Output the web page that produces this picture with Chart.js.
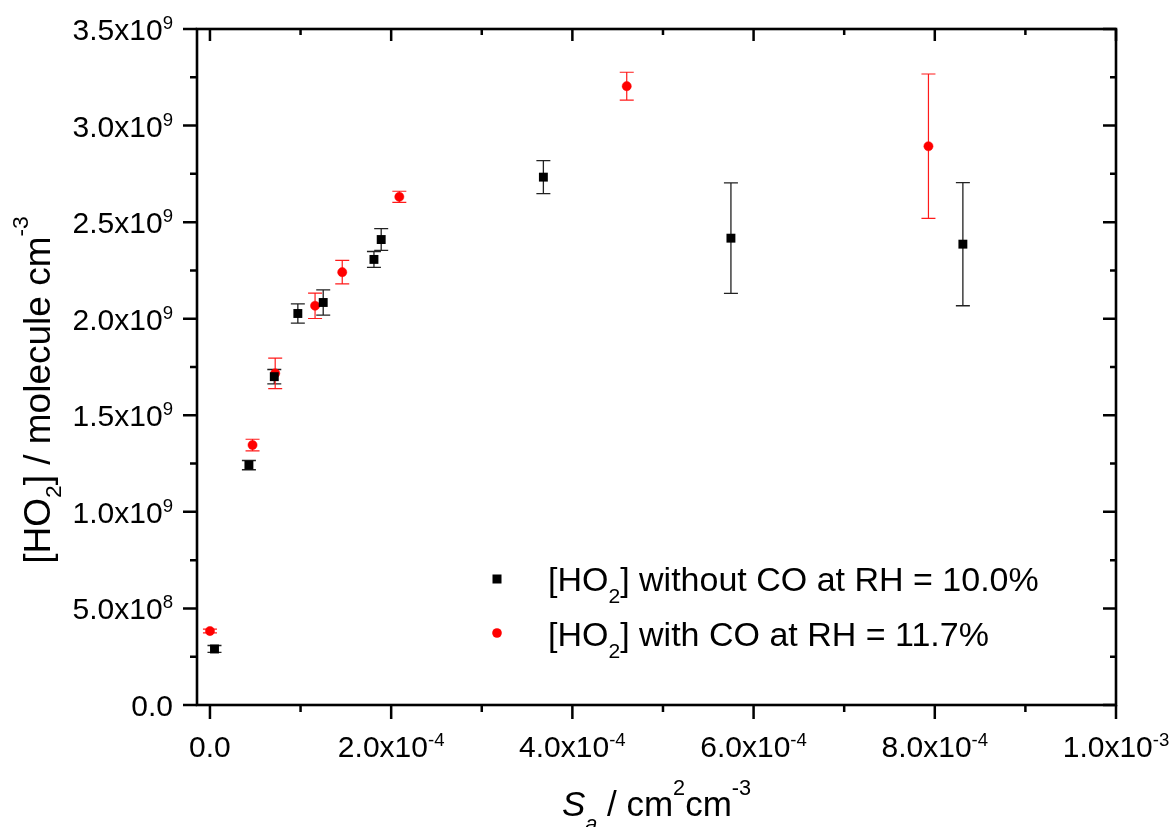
<!DOCTYPE html>
<html>
<head>
<meta charset="utf-8">
<script src="https://cdn.jsdelivr.net/npm/chart.js@4.4.1/dist/chart.umd.min.js"></script>
<style>
    html, body { margin: 0; padding: 0; background: #fff; }
    #divChart { width: 1169px; height: 827px; }
</style>
</head>
<body>
<div id="divChart"><canvas id="cnvHO2Chart"></canvas></div>
<script>
/**
 * DATA
 */
// [HO2] without CO at RH = 10.0%
let saNoCO = [0.5e-5, 4.3e-5, 7.1e-5, 9.7e-5, 12.5e-5, 18.1e-5, 18.9e-5, 36.8e-5, 57.5e-5, 83.1e-5];
let ho2NoCO = [0.290e9, 1.242e9, 1.700e9, 2.027e9, 2.084e9, 2.307e9, 2.410e9, 2.733e9, 2.417e9, 2.386e9];
let errNoCO = [0.018e9, 0.024e9, 0.037e9, 0.050e9, 0.065e9, 0.041e9, 0.056e9, 0.085e9, 0.286e9, 0.319e9];

// [HO2] with CO at RH = 11.7%
let saCO = [0.0, 4.7e-5, 7.2e-5, 11.6e-5, 14.6e-5, 20.9e-5, 46.0e-5, 79.3e-5];
let ho2CO = [0.383e9, 1.346e9, 1.717e9, 2.067e9, 2.241e9, 2.631e9, 3.204e9, 2.893e9];
let errCO = [0.010e9, 0.030e9, 0.079e9, 0.066e9, 0.061e9, 0.029e9, 0.072e9, 0.374e9];

// axis ticks
let xMajorTicks = [0, 2e-4, 4e-4, 6e-4, 8e-4, 1e-3];
let xMinorTicks = [1e-4, 3e-4, 5e-4, 7e-4, 9e-4];
let xTickLabels = [['0.0', ''], ['2.0x10', '-4'], ['4.0x10', '-4'], ['6.0x10', '-4'], ['8.0x10', '-4'], ['1.0x10', '-3']];
let yMajorTicks = [0, 0.5e9, 1.0e9, 1.5e9, 2.0e9, 2.5e9, 3.0e9, 3.5e9];
let yMinorTicks = [0.25e9, 0.75e9, 1.25e9, 1.75e9, 2.25e9, 2.75e9, 3.25e9];
let yTickLabels = [['0.0', ''], ['5.0x10', '8'], ['1.0x10', '9'], ['1.5x10', '9'], ['2.0x10', '9'], ['2.5x10', '9'], ['3.0x10', '9'], ['3.5x10', '9']];

let legendLabels = [
    [{ t: '[HO' }, { t: '2', sub: true }, { t: '] without CO at RH = 10.0%' }],
    [{ t: '[HO' }, { t: '2', sub: true }, { t: '] with CO at RH = 11.7%' }]
];

const FONT = "'Liberation Sans', Arial, Helvetica, sans-serif";

/**
 * FUNCTIONS
 */

/**
 * font string for a text part
 */
function PartFont(part, size) {
    let s = (part.sup || part.sub) ? size * 0.62 : size;
    return `${part.italic ? 'italic ' : ''}${s}px ${FONT}`;
}

/**
 * width of a rich text (parts with sub / sup)
 */
function RichWidth(ctx, parts, size) {
    let w = 0;
    parts.forEach(p => {
        ctx.font = PartFont(p, size);
        w += ctx.measureText(p.t).width;
    });
    return w;
}

/**
 * draws rich text, x is the left edge, y the baseline
 */
function DrawRich(ctx, parts, x, y, size, supShift, subShift) {
    ctx.textAlign = 'left';
    ctx.textBaseline = 'alphabetic';
    parts.forEach(p => {
        ctx.font = PartFont(p, size);
        let dy = 0;
        if (p.sup) dy = -supShift;
        if (p.sub) dy = subShift;
        ctx.fillText(p.t, x, y + dy);
        x += ctx.measureText(p.t).width;
    });
}

function TickParts(lbl) {
    let parts = [{ t: lbl[0] }];
    if (lbl[1] !== '') parts.push({ t: lbl[1], sup: true });
    return parts;
}

/**
 * error bars, drawn before the markers
 */
let errorBarPlugin = {
    id: 'errorBars',
    beforeDatasetsDraw(chart) {
        let ctx = chart.ctx;
        let xs = chart.scales.x;
        let ys = chart.scales.y;
        let sets = [
            { sa: saNoCO, v: ho2NoCO, e: errNoCO, color: '#222', lw: 1.3 },
            { sa: saCO, v: ho2CO, e: errCO, color: '#ff1a1a', lw: 1.2 }
        ];
        ctx.save();
        sets.forEach(s => {
            ctx.strokeStyle = s.color;
            ctx.lineWidth = s.lw;
            for (let i = 0; i < s.sa.length; i++) {
                let px = xs.getPixelForValue(s.sa[i]);
                let top = ys.getPixelForValue(s.v[i] + s.e[i]);
                let bot = ys.getPixelForValue(s.v[i] - s.e[i]);
                ctx.beginPath();
                ctx.moveTo(px, top); ctx.lineTo(px, bot);
                ctx.moveTo(px - 7, top); ctx.lineTo(px + 7, top);
                ctx.moveTo(px - 7, bot); ctx.lineTo(px + 7, bot);
                ctx.stroke();
            }
        });
        ctx.restore();
    }
};

/**
 * frame, ticks, tick labels, axis titles and legend
 */
let framePlugin = {
    id: 'frame',
    afterDraw(chart) {
        let ctx = chart.ctx;
        let a = chart.chartArea;
        let xs = chart.scales.x;
        let ys = chart.scales.y;
        ctx.save();
        ctx.fillStyle = '#000';
        ctx.strokeStyle = '#000';

        // ticks
        ctx.lineWidth = 2.5;
        ctx.beginPath();
        xMajorTicks.forEach(v => {
            let px = xs.getPixelForValue(v);
            ctx.moveTo(px, a.bottom); ctx.lineTo(px, a.bottom + 14);
            ctx.moveTo(px, a.top); ctx.lineTo(px, a.top + 12);
        });
        xMinorTicks.forEach(v => {
            let px = xs.getPixelForValue(v);
            ctx.moveTo(px, a.bottom); ctx.lineTo(px, a.bottom + 7);
            ctx.moveTo(px, a.top); ctx.lineTo(px, a.top + 6);
        });
        yMajorTicks.forEach(v => {
            let py = ys.getPixelForValue(v);
            ctx.moveTo(a.left, py); ctx.lineTo(a.left - 14, py);
            ctx.moveTo(a.right, py); ctx.lineTo(a.right - 13, py);
        });
        yMinorTicks.forEach(v => {
            let py = ys.getPixelForValue(v);
            ctx.moveTo(a.left, py); ctx.lineTo(a.left - 7, py);
            ctx.moveTo(a.right, py); ctx.lineTo(a.right - 6, py);
        });
        ctx.stroke();

        // frame
        ctx.lineWidth = 2.6;
        ctx.strokeRect(a.left, a.top, a.right - a.left, a.bottom - a.top);

        // tick labels
        let tickSize = 30;
        xMajorTicks.forEach((v, i) => {
            let parts = TickParts(xTickLabels[i]);
            let w = RichWidth(ctx, parts, tickSize);
            let px = xs.getPixelForValue(v);
            DrawRich(ctx, parts, px - w / 2, a.bottom + 52, tickSize, 11, 0);
        });
        yMajorTicks.forEach((v, i) => {
            let parts = TickParts(yTickLabels[i]);
            let w = RichWidth(ctx, parts, tickSize);
            let py = ys.getPixelForValue(v);
            DrawRich(ctx, parts, a.left - 24 - w, py + 11, tickSize, 11, 0);
        });

        // x title
        let titleSize = 35;
        let xTitle = [{ t: 'S', italic: true }, { t: 'a', italic: true, sub: true }, { t: ' / cm' }, { t: '2', sup: true }, { t: 'cm' }, { t: '-3', sup: true }];
        let wx = RichWidth(ctx, xTitle, titleSize);
        DrawRich(ctx, xTitle, (a.left + a.right) / 2 - wx / 2, 816, titleSize, 21, 15);

        // y title
        let yTitle = [{ t: '[HO' }, { t: '2', sub: true }, { t: '] / molecule cm' }, { t: '-3', sup: true }];
        let wy = RichWidth(ctx, yTitle, 37);
        ctx.save();
        ctx.translate(50, 390);
        ctx.rotate(-Math.PI / 2);
        DrawRich(ctx, yTitle, -wy / 2, 0, 37, 22, 11);
        ctx.restore();

        // legend
        let legSize = 34;
        let markX = 497;
        let rows = [579, 633];
        ctx.fillStyle = '#000';
        ctx.fillRect(markX - 4.5, rows[0] - 4.5, 9, 9);
        ctx.fillStyle = '#ff0000';
        ctx.beginPath();
        ctx.arc(markX, rows[1], 4.8, 0, Math.PI * 2);
        ctx.fill();
        ctx.fillStyle = '#000';
        DrawRich(ctx, legendLabels[0], 548, 591, legSize, 12, 12);
        DrawRich(ctx, legendLabels[1], 548, 646, legSize, 12, 12);

        ctx.restore();
    }
};

/**
 * builds {x, y} points from the named arrays
 */
function Points(xArr, yArr) {
    return xArr.map((x, i) => ({ x: x, y: yArr[i] }));
}

function PaintChart() {
    let canvas = document.querySelector('#cnvHO2Chart');
    new Chart(canvas, {
        type: 'scatter',
        data: {
            datasets: [{
                label: '[HO2] without CO at RH = 10.0%',
                data: Points(saNoCO, ho2NoCO),
                pointStyle: 'rect',
                pointRadius: 6.3,
                backgroundColor: '#000',
                borderColor: '#000',
                borderWidth: 0
            }, {
                label: '[HO2] with CO at RH = 11.7%',
                data: Points(saCO, ho2CO),
                pointStyle: 'circle',
                pointRadius: 4.6,
                backgroundColor: '#ff0000',
                borderColor: '#ff0000',
                borderWidth: 0.5
            }]
        },
        options: {
            responsive: true,
            maintainAspectRatio: false,
            animation: false,
            layout: { padding: { left: 197, top: 29, right: 53, bottom: 122 } },
            scales: {
                x: { type: 'linear', min: -1.43e-5, max: 1e-3, display: false },
                y: { type: 'linear', min: 0, max: 3.5e9, display: false }
            },
            plugins: {
                legend: { display: false },
                tooltip: { enabled: false }
            }
        },
        plugins: [errorBarPlugin, framePlugin]
    });
}

PaintChart();
</script>
</body>
</html>
